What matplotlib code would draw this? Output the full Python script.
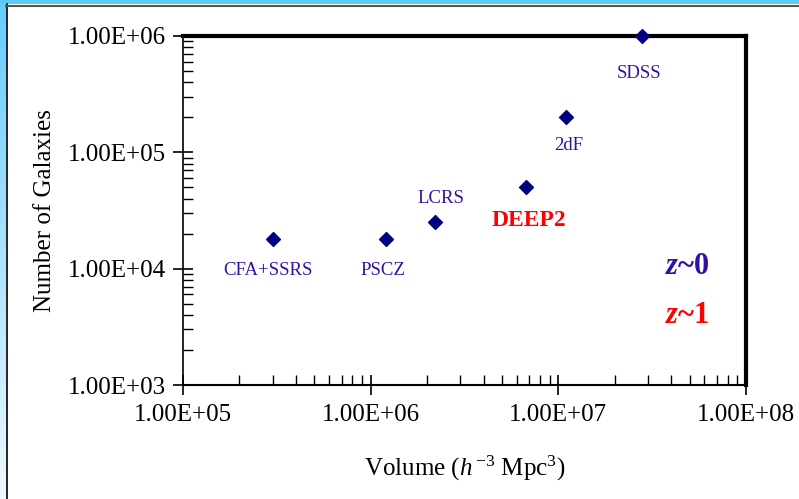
import matplotlib
matplotlib.use('Agg')

import numpy as np
import matplotlib.pyplot as plt
from matplotlib.ticker import FuncFormatter, LogLocator

# survey data
surveys = ['CFA+SSRS', 'PSCZ', 'LCRS', 'DEEP2', '2dF', 'SDSS']
volume = [3.0e5, 1.2e6, 2.2e6, 6.7e6, 1.1e7, 2.8e7]
n_galaxies = [1.8e4, 1.8e4, 2.5e4, 5.0e4, 2.0e5, 1.0e6]

plt.rcParams['font.family'] = ['Liberation Serif', 'DejaVu Serif']
plt.rcParams['mathtext.fontset'] = 'custom'
plt.rcParams['mathtext.rm'] = 'Liberation Serif'
plt.rcParams['mathtext.it'] = 'Liberation Serif:italic'
plt.rcParams['mathtext.bf'] = 'Liberation Serif:bold'
plt.rcParams['mathtext.bfit'] = 'Liberation Serif:bold:italic'

fig = plt.figure(figsize=(7.99, 4.99), dpi=100)
fig.patch.set_facecolor('white')

# blue frame on left and top
grad = np.linspace(0, 1, 256).reshape(-1, 1)
bax = fig.add_axes([0, 0, 6 / 799, 1])
bax.imshow(grad, aspect='auto', cmap=matplotlib.colors.LinearSegmentedColormap.from_list(
    'b', ['#66ccff', '#eef8ff']), extent=[0, 1, 0, 1])
bax.axis('off')
fig.add_artist(plt.Rectangle((0, 1 - 4 / 499), 1, 4 / 499, transform=fig.transFigure,
                             color='#5ccbf5', lw=0))
fig.add_artist(plt.Line2D([6.5 / 799, 6.5 / 799], [0, 1 - 4 / 499], transform=fig.transFigure,
                          color='black', lw=1.2))
fig.add_artist(plt.Line2D([6 / 799, 1], [1 - 5.5 / 499, 1 - 5.5 / 499], transform=fig.transFigure,
                          color='#555555', lw=1.5))

ax = fig.add_axes([183 / 799, 1 - 385 / 499, (746 - 183) / 799, (385 - 36) / 499])
ax.set_xscale('log')
ax.set_yscale('log')
ax.set_xlim(1e5, 1e8)
ax.set_ylim(1e3, 1e6)

ax.scatter(volume, n_galaxies, marker='D', s=50, color='#000080', zorder=5, clip_on=False)

label_color = '#3311a0'
offsets = {
    'CFA+SSRS': (-3, -23),
    'PSCZ': (-2, -23),
    'LCRS': (4, 17),
    '2dF': (2, -20),
    'SDSS': (-2, -27),
}
for name, x, y in zip(surveys, volume, n_galaxies):
    if name == 'DEEP2':
        ax.annotate(name, (x, y), xytext=(2, -24), textcoords='offset points',
                    ha='center', va='center', color='red', fontsize=17, fontweight='bold')
    else:
        ax.annotate(name, (x, y), xytext=offsets[name], textcoords='offset points',
                    ha='center', va='center', color=label_color, fontsize=13.5)

ax.text(0.895, 0.34, r'$\mathbfit{z}$~0', transform=ax.transAxes, ha='center', va='center',
        color=label_color, fontsize=22, fontweight='bold')
ax.text(0.895, 0.2, r'$\mathbfit{z}$~1', transform=ax.transAxes, ha='center', va='center',
        color='red', fontsize=22, fontweight='bold')

fmt = FuncFormatter(lambda v, p: f'{v:.2E}')
ax.xaxis.set_major_formatter(fmt)
ax.yaxis.set_major_formatter(fmt)
ax.xaxis.set_major_locator(LogLocator(base=10, numticks=10))
ax.yaxis.set_major_locator(LogLocator(base=10, numticks=10))
ax.xaxis.set_minor_locator(LogLocator(base=10, subs=np.arange(2, 10), numticks=20))
ax.yaxis.set_minor_locator(LogLocator(base=10, subs=np.arange(2, 10), numticks=20))
ax.xaxis.set_minor_formatter(plt.NullFormatter())
ax.yaxis.set_minor_formatter(plt.NullFormatter())

ax.tick_params(which='major', direction='inout', length=15, width=1.2, labelsize=18, pad=5)
ax.tick_params(axis='x', which='major', pad=6)
ax.tick_params(which='minor', direction='in', length=7, width=1.0)

ax.spines['left'].set_linewidth(1.2)
ax.spines['bottom'].set_linewidth(1.5)
ax.spines['top'].set_linewidth(3)
ax.spines['right'].set_linewidth(3)

ax.set_xlabel(r'Volume ($\mathit{h}^{\,\mathrm{-3}}$ Mpc$^{\mathrm{3}}$)', fontsize=18, labelpad=20)
ax.set_ylabel('Number of Galaxies', fontsize=18, labelpad=8)

fig.savefig('out.png', dpi=100)
